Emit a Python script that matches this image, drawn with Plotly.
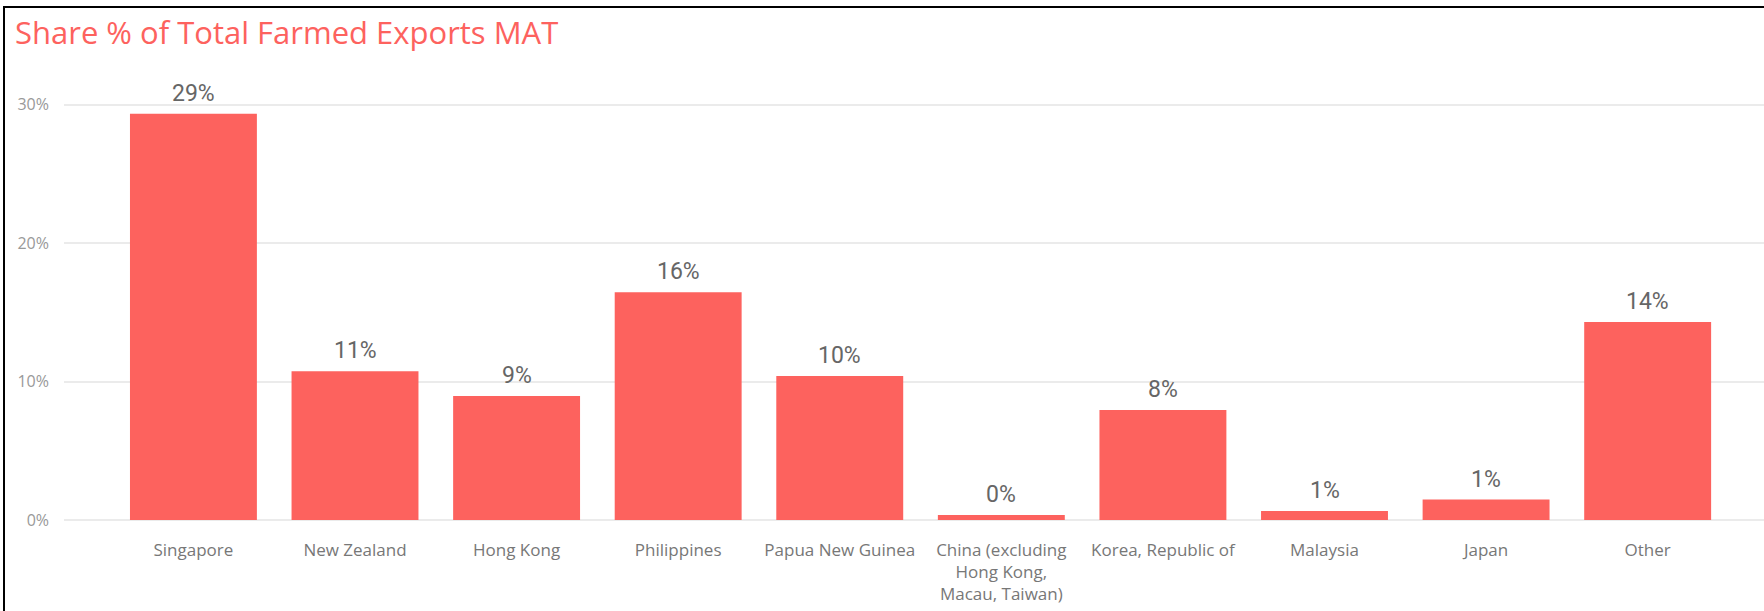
import plotly.graph_objects as go

categories = ["Singapore", "New Zealand", "Hong Kong", "Philippines", "Papua New Guinea",
              "China (excluding<br>Hong Kong,<br>Macau, Taiwan)", "Korea, Republic of",
              "Malaysia", "Japan", "Other"]
share_pct = [29.34, 10.75, 8.95, 16.45, 10.4, 0.36, 7.94, 0.65, 1.48, 14.3]
y_ticks = [0, 10, 20, 30]
y_tick_labels = ["0%", "10%", "20%", "30%"]

BAR = "#FD625E"

fig = go.Figure(go.Bar(
    x=categories, y=share_pct, marker_color=BAR, marker_line_width=0,
    hoverinfo="x+y",
))

for c, v in zip(categories, share_pct):
    fig.add_annotation(x=c, y=v, text=f"{v:.0f}%", showarrow=False,
                       yanchor="bottom", yshift=5,
                       font=dict(family="Roboto", size=23, color="#666666"))

W, H = 1764, 611
fig.update_layout(
    width=W, height=H,
    margin=dict(l=64, r=0, t=70, b=91),
    paper_bgcolor="white", plot_bgcolor="white",
    bargap=0.2145,
    showlegend=False,
    title=dict(text="Share % of Total Farmed Exports MAT", x=15 / W, xanchor="left",
               xref="container",
               y=1 - 33 / H, yanchor="middle", yref="container",
               font=dict(family="Open Sans", size=31, color=BAR)),
    xaxis=dict(range=[-0.801, 9.72], showgrid=False, showline=False, zeroline=False,
               ticks="", ticklabelstandoff=18,
               tickfont=dict(family="Open Sans", size=17, color="#777777")),
    yaxis=dict(range=[0, 32.5], tickvals=y_ticks, ticktext=y_tick_labels,
               showgrid=True, gridcolor="#ebebeb", gridwidth=1.5,
               zeroline=True, zerolinecolor="#ebebeb", zerolinewidth=1.5,
               showline=False, ticks="", ticklabelstandoff=14,
               tickfont=dict(family="Open Sans", size=16, color="#999999")),
    shapes=[
        dict(type="line", xref="paper", yref="paper",
             x0=-61 / 1700, x1=1.0, y0=1 + (70 - 7) / 450, y1=1 + (70 - 7) / 450,
             line=dict(color="black", width=2)),
        dict(type="line", xref="paper", yref="paper",
             x0=-60 / 1700, x1=-60 / 1700, y0=1 + (70 - 7) / 450, y1=-91 / 450,
             line=dict(color="black", width=2)),
    ],
)

fig.write_html("out.html", config={"displayModeBar": False},
               post_script="document.body.style.margin='0';document.body.style.padding='0';")
